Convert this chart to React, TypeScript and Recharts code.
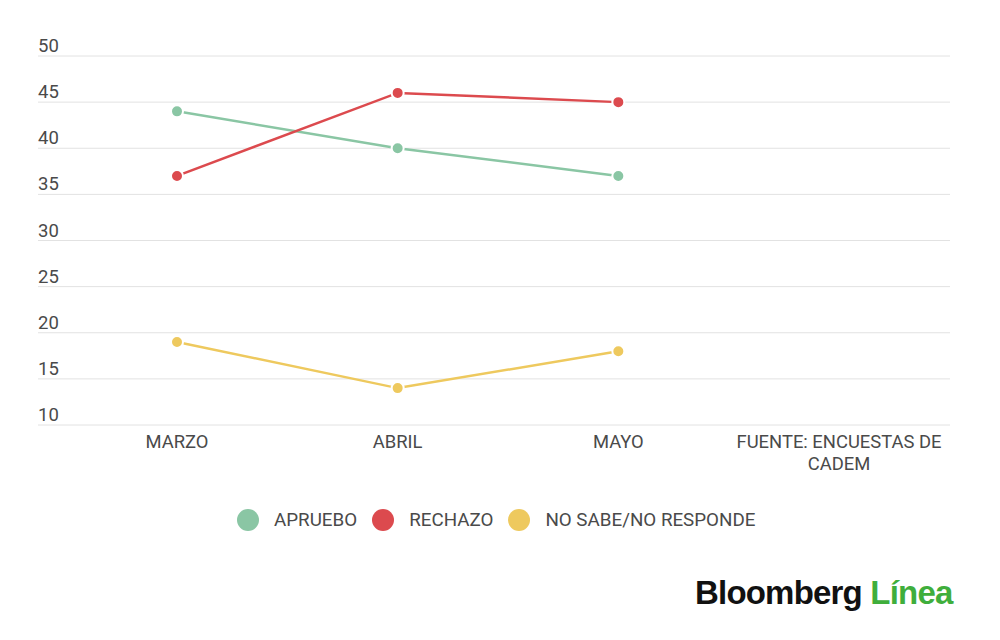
import { CartesianGrid, Line, LineChart, XAxis, YAxis } from "recharts";

const categories = ["MARZO", "ABRIL", "MAYO", "FUENTE: ENCUESTAS DE CADEM"];
const apruebo = [44, 40, 37, null];
const rechazo = [37, 46, 45, null];
const noSabe = [19, 14, 18, null];
const yTicks = [10, 15, 20, 25, 30, 35, 40, 45, 50];

const series = [
  { key: "apruebo", name: "APRUEBO", color: "#8ac6a4" },
  { key: "rechazo", name: "RECHAZO", color: "#dc4a4e" },
  { key: "noSabe", name: "NO SABE/NO RESPONDE", color: "#eec95e" },
];

const data = categories.map((month, i) => ({
  month,
  apruebo: apruebo[i],
  rechazo: rechazo[i],
  noSabe: noSabe[i],
}));

const FONT = "Roboto, 'Noto Sans', sans-serif";
const TEXT = "#4a4a4a";

function wrapWords(text: string, maxChars: number): string[] {
  const lines: string[] = [];
  let cur = "";
  for (const w of text.split(" ")) {
    const next = cur ? `${cur} ${w}` : w;
    if (next.length > maxChars && cur) {
      lines.push(cur);
      cur = w;
    } else {
      cur = next;
    }
  }
  if (cur) lines.push(cur);
  return lines;
}

function MonthTick(props: any) {
  const { x, y, payload } = props;
  const lines = wrapWords(String(payload.value), 20);
  return (
    <text x={x} y={y} textAnchor="middle" fill={TEXT} fontSize={18.4} fontFamily={FONT}>
      {lines.map((l, i) => (
        <tspan key={i} x={x} dy={i === 0 ? 15 : 22}>
          {l}
        </tspan>
      ))}
    </text>
  );
}

// y labels sit on the left edge, just above their gridline
function ValueTick(props: any) {
  const { y, payload } = props;
  return (
    <text x={38} y={y - 4} textAnchor="start" fill={TEXT} fontSize={18.5} fontFamily={FONT}>
      {payload.value}
    </text>
  );
}

export default function App() {
  return (
    <div
      style={{
        position: "absolute",
        left: 0,
        top: 0,
        width: 1000,
        height: 640,
        background: "#fff",
        fontFamily: FONT,
      }}
    >
      <LineChart
        width={1000}
        height={640}
        data={data}
        margin={{ top: 56, right: 50, left: 8, bottom: 185 }}
      >
        <CartesianGrid stroke="#e2e2e2" vertical={false} />
        <XAxis
          dataKey="month"
          axisLine={false}
          tickLine={false}
          tick={<MonthTick />}
          interval={0}
          padding={{ left: 139, right: 111 }}
          height={30}
        />
        <YAxis
          domain={[10, 50]}
          ticks={yTicks}
          width={30}
          axisLine={false}
          tickLine={false}
          tick={<ValueTick />}
          interval={0}
        />
        {series.map((s) => (
          <Line
            key={s.key}
            dataKey={s.key}
            name={s.name}
            stroke={s.color}
            strokeWidth={2.5}
            dot={{ r: 6, fill: s.color, stroke: "#fff", strokeWidth: 2 }}
            isAnimationActive={false}
          />
        ))}
      </LineChart>

      <div
        style={{
          position: "absolute",
          left: 237,
          top: 509,
          display: "flex",
          alignItems: "center",
          fontSize: 18.8,
          color: TEXT,
        }}
      >
        {series.map((s) => (
          <div key={s.key} style={{ display: "flex", alignItems: "center", marginRight: 15 }}>
            <span
              style={{
                display: "inline-block",
                width: 22,
                height: 22,
                borderRadius: "50%",
                background: s.color,
                marginRight: 15,
              }}
            />
            <span>{s.name}</span>
          </div>
        ))}
      </div>

      <div
        style={{
          position: "absolute",
          left: 695,
          top: 574,
          fontFamily: "'Liberation Sans', Arial, sans-serif",
          fontWeight: 700,
          fontSize: 33,
          letterSpacing: -0.8,
          whiteSpace: "nowrap",
        }}
      >
        <span style={{ color: "#111" }}>Bloomberg</span>{" "}
        <span style={{ color: "#3fae3c" }}>Línea</span>
      </div>
    </div>
  );
}
